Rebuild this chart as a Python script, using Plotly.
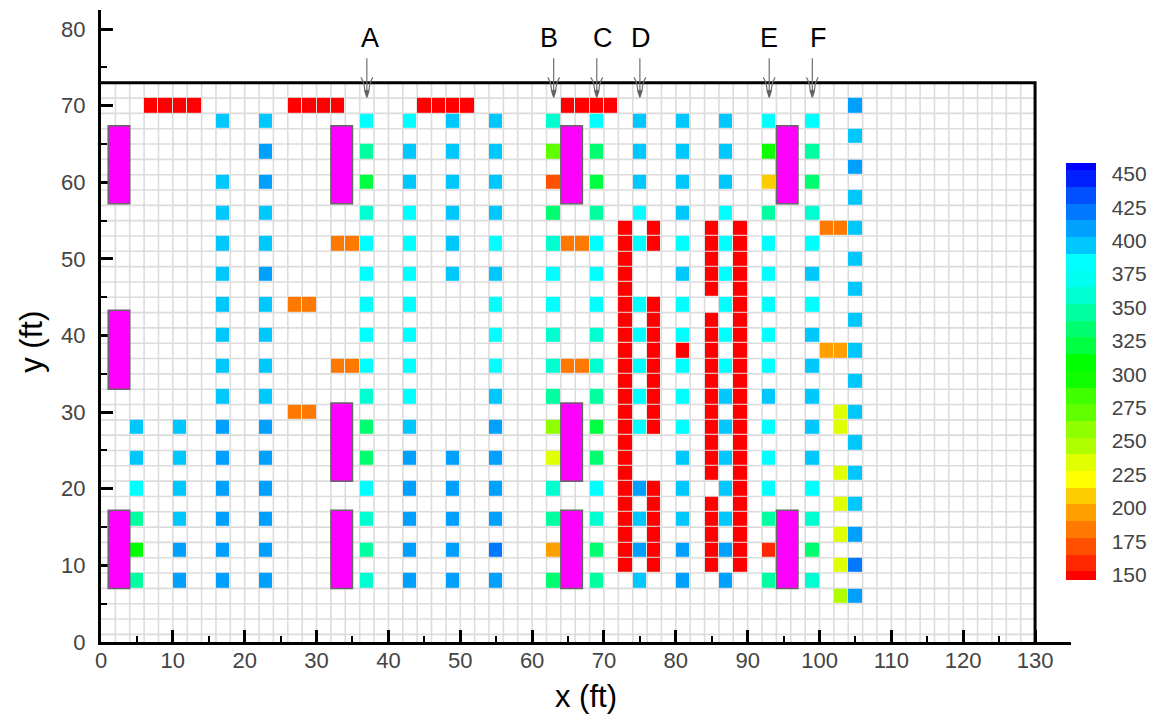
import plotly.graph_objects as go

# Contour levels and their colours (banded colour legend)
level_edges = [146, 152.5, 165, 177.5, 190, 202.5, 215, 227.5, 240, 252.5, 265, 277.5, 290,
               302.5, 315, 327.5, 340, 352.5, 365, 377.5, 390, 402.5, 415, 427.5, 440, 452.5, 458]
level_colors = ["#ff0000", "#ff2800", "#ff5000", "#ff7800", "#ffa000", "#ffcc00", "#ffff00",
                "#e0ff00", "#b0ff00", "#90ff00", "#60ff00", "#40ff00", "#10ff00", "#00ff00",
                "#00ff40", "#00ff70", "#00ffa0", "#00ffd0", "#00fff0", "#00ffff", "#00c8ff",
                "#00a0ff", "#0078ff", "#0050ff", "#0020ff", "#0000ff"]
bar_ticks = [150, 175, 200, 225, 250, 275, 300, 325, 350, 375, 400, 425, 450]

RED = 148
# Each column: x position -> {y: value}
col_5 = {28: 396, 24: 396, 20: 384, 16: 346, 12: 305, 8: 340}
col_11 = {28: 396, 24: 396, 20: 396, 16: 396, 12: 408, 8: 408}
col_17 = {68: 396, 60: 396, 56: 396, 52: 396, 48: 396, 44: 396, 40: 396, 36: 396, 32: 396,
          28: 408, 24: 408, 20: 408, 16: 408, 12: 408, 8: 408}
col_23 = {68: 396, 64: 408, 60: 408, 56: 396, 52: 396, 48: 408, 44: 396, 40: 396, 36: 396,
          32: 396, 28: 408, 24: 408, 20: 408, 16: 408, 12: 408, 8: 408}
col_37 = {68: 384, 64: 340, 60: 321, 56: 359, 52: 384, 48: 384, 44: 384, 40: 384, 36: 384,
          32: 359, 28: 328, 24: 328, 20: 384, 16: 359, 12: 340, 8: 359}
col_43 = {68: 384, 64: 396, 60: 396, 56: 384, 52: 384, 48: 384, 44: 384, 40: 384, 36: 384,
          32: 384, 28: 396, 24: 408, 20: 408, 16: 408, 12: 408, 8: 408}
col_49 = {68: 396, 64: 396, 60: 396, 56: 396, 52: 396, 48: 396, 24: 408, 20: 408, 16: 408,
          12: 408, 8: 408}
col_55 = {68: 396, 64: 396, 60: 396, 56: 396, 52: 384, 48: 396, 44: 384, 40: 384, 36: 384,
          32: 396, 28: 408, 24: 408, 20: 408, 16: 408, 12: 421, 8: 408}
col_63 = {68: 359, 64: 271, 60: 171, 56: 334, 52: 359, 48: 384, 44: 384, 40: 359, 36: 359,
          32: 346, 28: 258, 24: 234, 20: 359, 16: 340, 12: 196, 8: 328}
col_69 = {68: 384, 64: 334, 60: 321, 56: 346, 52: 384, 48: 384, 44: 384, 40: 359, 36: 359,
          32: 346, 28: 321, 24: 328, 20: 384, 16: 359, 12: 328, 8: 346}
col_75 = {68: 396, 64: 396, 60: 396, 56: 384, 52: 384, 44: 384, 40: 384, 36: 384, 32: 384,
          28: 384, 20: 408, 16: 396, 12: 408, 8: 396}
col_81 = {68: 396, 64: 396, 60: 396, 56: 396, 52: 384, 48: 396, 44: 384, 40: 384, 38: RED,
          36: 384, 32: 384, 28: 384, 24: 396, 20: 396, 16: 396, 12: 408, 8: 408}
col_87 = {68: 396, 64: 396, 60: 396, 56: 384, 52: 384, 48: 384, 44: 384, 40: 384, 36: 384,
          32: 396, 28: 396, 24: 396, 20: 396, 16: 396, 12: 408, 8: 408}
col_93 = {68: 384, 64: 300, 60: 208, 56: 346, 52: 384, 48: 384, 44: 384, 40: 384, 36: 384,
          32: 396, 28: 384, 24: 384, 20: 384, 16: 340, 12: 160, 8: 340}
col_99 = {68: 384, 64: 340, 60: 328, 56: 359, 52: 384, 48: 396, 44: 384, 40: 396, 36: 396,
          32: 396, 28: 396, 24: 396, 20: 384, 16: 359, 12: 328, 8: 359}
col_101 = {54: 184, 38: 196}
col_103 = {54: 184, 38: 196, 30: 234, 28: 234, 22: 234, 18: 234, 14: 234, 10: 234, 6: 246}
col_105 = {70: 408, 66: 396, 62: 408, 58: 396, 54: 396, 50: 396, 46: 396, 42: 396, 38: 396,
           34: 396, 30: 396, 26: 396, 22: 396, 18: 396, 14: 408, 10: 421, 6: 408}

# Red (low value) rows along y = 70 and on the short/long red columns
red_row_70_x = [7, 9, 11, 13, 27, 29, 31, 33, 45, 47, 49, 51, 65, 67, 69, 71]
col_73_red_y = [54, 52, 50, 48, 46, 44, 42, 40, 38, 36, 34, 32, 30, 28, 26, 24, 22, 20, 18, 16, 14, 12, 10]
col_77_red_y = [54, 52, 44, 42, 40, 38, 36, 34, 32, 30, 28, 20, 18, 16, 14, 12, 10]
col_85_red_y = [54, 52, 50, 48, 46, 42, 40, 38, 36, 34, 32, 30, 28, 26, 24, 22, 18, 16, 14, 12, 10]
col_89_red_y = [54, 52, 50, 48, 46, 44, 42, 40, 38, 36, 34, 32, 30, 28, 26, 24, 22, 20, 18, 16, 14, 12, 10]

# Orange pairs
orange_cells = [(27, 44, 184), (29, 44, 184), (27, 30, 184), (29, 30, 184),
                (33, 52, 184), (35, 52, 184), (33, 36, 184), (35, 36, 184),
                (65, 52, 184), (67, 52, 184), (65, 36, 184), (67, 36, 184)]

# Magenta blocks: (x0, x1, y0, y1)
blocks = [(1, 4, 57.2, 67.4), (1, 4, 33, 43.3), (1, 4, 7, 17.2),
          (32, 35, 57.2, 67.4), (32, 35, 21, 31.2), (32, 35, 7, 17.2),
          (64, 67, 57.2, 67.4), (64, 67, 21, 31.2), (64, 67, 7, 17.2),
          (94, 97, 57.2, 67.4), (94, 97, 7, 17.2)]

# Section labels and arrows
section_names = ["A", "B", "C", "D", "E", "F"]
section_label_x = [37.5, 62.3, 69.8, 75.2, 92.9, 99.9]
section_arrow_x = [37, 63, 69, 75, 93, 99]

x_ticks = list(range(0, 131, 10))
y_ticks = list(range(0, 81, 10))

# ---------------------------------------------------------------- build grid
x_centers = list(range(1, 131, 2))
y_centers = list(range(2, 73, 2))
z = [[None for _ in x_centers] for _ in y_centers]


def put(x, y, v):
    z[y_centers.index(y)][x_centers.index(x)] = v


for xc, col in [(5, col_5), (11, col_11), (17, col_17), (23, col_23), (37, col_37), (43, col_43),
                (49, col_49), (55, col_55), (63, col_63), (69, col_69), (75, col_75), (81, col_81),
                (87, col_87), (93, col_93), (99, col_99), (101, col_101), (103, col_103), (105, col_105)]:
    for yc, v in col.items():
        put(xc, yc, v)
for xc in red_row_70_x:
    put(xc, 70, RED)
for xc, ys in [(73, col_73_red_y), (77, col_77_red_y), (85, col_85_red_y), (89, col_89_red_y)]:
    for yc in ys:
        put(xc, yc, RED)
for xc, yc, v in orange_cells:
    put(xc, yc, v)

zmin, zmax = level_edges[0], level_edges[-1]
colorscale = []
for i, c in enumerate(level_colors):
    colorscale.append([(level_edges[i] - zmin) / (zmax - zmin), c])
    colorscale.append([(level_edges[i + 1] - zmin) / (zmax - zmin), c])

W, H = 1157, 717
fig = go.Figure()
fig.add_trace(go.Heatmap(
    x=x_centers, y=y_centers, z=z, zmin=zmin, zmax=zmax, colorscale=colorscale,
    xgap=1, ygap=1, hoverongaps=False,
    colorbar=dict(
        thickness=30, thicknessmode="pixels", len=417, lenmode="pixels",
        xref="container", yref="container", x=1066 / W, xanchor="left",
        y=1 - 185 / H, yanchor="top", xpad=0, ypad=0,
        tickmode="array", tickvals=bar_ticks, ticks="outside", ticklen=12, tickcolor="rgba(0,0,0,0)",
        outlinewidth=0,
        tickfont=dict(family="Liberation Sans", size=21, color="#444444"),
    ),
))
# Top and right frame
frame_x = [0, 130, 130]
frame_y = [73, 73, 0]
fig.add_trace(go.Scatter(x=frame_x, y=frame_y, mode="lines", line=dict(color="black", width=3),
                         hoverinfo="skip", showlegend=False))

shapes = []
GRID = dict(color="#dcdcdc", width=1.6)
for gx in range(2, 130, 2):
    shapes.append(dict(type="line", x0=gx, x1=gx, y0=0, y1=73, layer="below", line=GRID))
for gy in range(1, 73, 2):
    shapes.append(dict(type="line", x0=0, x1=130, y0=gy, y1=gy, layer="below", line=GRID))
for x0, x1, y0, y1 in blocks:
    shapes.append(dict(type="rect", x0=x0, x1=x1, y0=y0, y1=y1, fillcolor="#ff00ff",
                       line=dict(color="#666666", width=1.5), layer="above"))

annotations = []
ARROW_TIP_Y = 71.1
for name, lx, ax_x in zip(section_names, section_label_x, section_arrow_x):
    annotations.append(dict(x=lx, y=78.9, text=name, showarrow=False,
                            font=dict(family="Liberation Sans", size=27, color="black")))
    # open, trident-like arrow head anchored at the section position
    shapes.append(dict(type="path", xref="x", yref="y", xsizemode="pixel", ysizemode="pixel",
                       xanchor=ax_x, yanchor=ARROW_TIP_Y, layer="above",
                       path="M0,39 L0,0 M-6,20 Q-2.5,15 -2,6 L0,0 M6,20 Q2.5,15 2,6 L0,0",
                       line=dict(color="#707070", width=1.2)))
    shapes.append(dict(type="path", xref="x", yref="y", xsizemode="pixel", ysizemode="pixel",
                       xanchor=ax_x, yanchor=ARROW_TIP_Y, layer="above",
                       path="M-2,7 L2,7 L0,0 Z", fillcolor="#606060",
                       line=dict(color="#606060", width=0.5)))

axis_font = dict(family="Liberation Sans", size=22, color="#444444")
title_font = dict(family="Liberation Sans", size=31, color="black")
common = dict(showgrid=False, zeroline=False, showline=True, linecolor="black", linewidth=3,
              ticks="inside", ticklen=12, tickwidth=3, tickcolor="black", tickfont=axis_font,
              tickmode="array",
              minor=dict(ticks="inside", ticklen=6, tickwidth=2, tickcolor="black",
                         tickmode="linear", tick0=0, dtick=5, showgrid=False))
plot_w = 1070.6 - 100.5
plot_h = 642 - 9.5
annotations.append(dict(xref="paper", yref="paper", x=(31 - 100.5) / plot_w, y=(642 - 342) / plot_h,
                        xanchor="center", yanchor="middle",
                        text="y (ft)", textangle=-90, showarrow=False, font=title_font))
fig.update_layout(
    width=W, height=H, margin=dict(l=100.5, r=W - 1070.6, t=9.5, b=75, pad=0, autoexpand=False),
    paper_bgcolor="white", plot_bgcolor="white", shapes=shapes, annotations=annotations,
    showlegend=False,
    xaxis=dict(range=[0, 135], tickvals=x_ticks, ticktext=[str(v) for v in x_ticks],
               ticklabelstandoff=-3,
               title=dict(text="x (ft)", font=title_font, standoff=13), **common),
    yaxis=dict(range=[0, 82.5], tickvals=y_ticks, ticktext=[str(v) for v in y_ticks],
               ticklabelstandoff=8, **common),
)
fig.write_html("out.html", config={"displayModeBar": False},
               post_script="document.body.style.margin='0';document.body.style.overflow='hidden';")
